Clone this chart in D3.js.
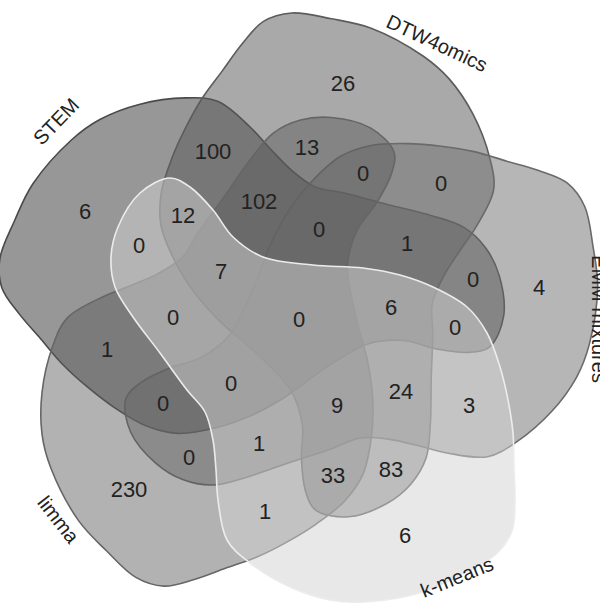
<!DOCTYPE html>
<html>
<head>
<meta charset="utf-8">
<script src="https://cdn.jsdelivr.net/npm/d3@7"></script>
<style>
  body { margin: 0; background: #fff; }
  svg { display: block; font-family: "Liberation Sans", Arial, sans-serif; }
</style>
</head>
<body>
<svg id="chart" width="600" height="604"></svg>
<script>
// sets
var setNames = ["STEM", "DTW4omics", "EMM mixtures", "k-means", "limma"];

// region membership (one bit per set, same order as setNames) and counts
var regionCodes = [
  "10000", "01000", "00100", "00010", "00001",
  "00110", "00011", "10001", "11000", "01100",
  "10100", "01010", "00101", "10010", "01001",
  "10110", "01011", "10101", "11010", "01101",
  "01110", "00111", "10011", "11001", "11100",
  "11110", "01111", "10111", "11011", "11101",
  "11111"
];
var regionCounts = [
  6, 26, 4, 6, 230,
  3, 1, 1, 100, 0,
  0, 83, 0, 0, 13,
  0, 33, 0, 12, 0,
  24, 1, 0, 102, 1,
  6, 9, 0, 7, 0,
  0
];

function draw() {
  var svg = d3.select("#chart");
  var width = 600, height = 604;

  // one blob (k-means), the others are rotated copies of it
  var blob = [
    [-130,-141],[-160,-126],[-182,-92],[-189,-62],[-185,-32],[-167,-2],
    [-140,34],[-113,71],[-95,93],[-87,121],[-84,151],[-82,181],[-73,221],
    [-50,244],[-10,268],[30,281],[65,283],[123,273],[160,256],[195,236],
    [212,212],[215,181],[214,148],[213,114],[208,81],[200,48],[187,14],
    [167,-12],[133,-32],[100,-44],[63,-51],[13,-54],[-37,-62],[-67,-82],
    [-87,-109],[-110,-132]
  ];

  var x = d3.scaleLinear().domain([-300, 300]).range([0, 600]);
  var y = d3.scaleLinear().domain([-300, 300]).range([19, 619]);

  // rotation of each set relative to the k-means blob
  var turn = { "k-means": 0, "limma": 72, "STEM": 141, "DTW4omics": 218, "EMM mixtures": 288 };
  var look = {
    "STEM":         { fill: "#464646", alpha: 0.56,  stroke: "#4a4a4a" },
    "DTW4omics":    { fill: "#5a5a5a", alpha: 0.52,  stroke: "#5c5c5c" },
    "EMM mixtures": { fill: "#757575", alpha: 0.53,  stroke: "#6a6a6a" },
    "limma":        { fill: "#5c5c5c", alpha: 0.47,  stroke: "#666666" },
    "k-means":      { fill: "#d1d1d1", alpha: 0.5,   stroke: "#ececec" }
  };
  var drawOrder = ["STEM", "DTW4omics", "EMM mixtures", "limma", "k-means"];

  function rotated(deg) {
    var a = deg * Math.PI / 180, c = Math.cos(a), s = Math.sin(a);
    return blob.map(function(p) { return [p[0] * c - p[1] * s, p[0] * s + p[1] * c]; });
  }

  var line = d3.line()
    .x(function(d) { return x(d[0]); })
    .y(function(d) { return y(d[1]); })
    .curve(d3.curveCatmullRomClosed.alpha(0.5));

  svg.append("g").selectAll("path")
    .data(drawOrder)
    .enter().append("path")
    .attr("d", function(d) { return line(rotated(turn[d])); })
    .attr("fill", function(d) { return look[d].fill; })
    .attr("fill-opacity", function(d) { return look[d].alpha; })
    .attr("stroke", function(d) { return look[d].stroke; })
    .attr("stroke-width", 1.6);

  // sample outlines into polygons (in setNames order)
  var probe = svg.append("path").attr("fill", "none").attr("stroke", "none");
  var polys = setNames.map(function(name) {
    probe.attr("d", line(rotated(turn[name])));
    var node = probe.node(), len = node.getTotalLength(), pts = [];
    for (var k = 0; k < 500; k++) {
      var p = node.getPointAtLength(len * k / 500);
      pts.push([p.x, p.y]);
    }
    return pts;
  });
  probe.remove();

  // membership grid + distance transform to place region labels
  var step = 2, gw = Math.ceil(width / step), gh = Math.ceil(height / step);
  var code = new Int32Array(gw * gh);
  var sums = {};
  for (var j = 0; j < gh; j++) {
    for (var i = 0; i < gw; i++) {
      var px = i * step + 1, py = j * step + 1, c = 0;
      for (var n = 0; n < 5; n++) {
        if (d3.polygonContains(polys[n], [px, py])) c |= (1 << (4 - n));
      }
      code[j * gw + i] = c;
      if (c) {
        if (!sums[c]) sums[c] = { x: 0, y: 0, n: 0 };
        sums[c].x += px; sums[c].y += py; sums[c].n++;
      }
    }
  }
  var dist = new Float32Array(gw * gh);
  for (j = 0; j < gh; j++) {
    for (i = 0; i < gw; i++) {
      var k = j * gw + i, cc = code[k];
      if (i == 0 || j == 0 || i == gw - 1 || j == gh - 1 ||
          code[k - 1] != cc || code[k + 1] != cc || code[k - gw] != cc || code[k + gw] != cc) dist[k] = 0;
      else dist[k] = 1e9;
    }
  }
  var r2 = Math.SQRT2;
  for (j = 1; j < gh - 1; j++) {
    for (i = 1; i < gw - 1; i++) {
      k = j * gw + i;
      dist[k] = Math.min(dist[k], dist[k - 1] + 1, dist[k - gw] + 1, dist[k - gw - 1] + r2, dist[k - gw + 1] + r2);
    }
  }
  for (j = gh - 2; j > 0; j--) {
    for (i = gw - 2; i > 0; i--) {
      k = j * gw + i;
      dist[k] = Math.min(dist[k], dist[k + 1] + 1, dist[k + gw] + 1, dist[k + gw + 1] + r2, dist[k + gw - 1] + r2);
    }
  }
  // roomy spot, pulled toward the region's centroid
  var best = {};
  for (k = 0; k < gw * gh; k++) {
    var cd = code[k];
    if (!cd) continue;
    var bx = (k % gw) * step + 1, by = Math.floor(k / gw) * step + 1;
    var cx = sums[cd].x / sums[cd].n, cy = sums[cd].y / sums[cd].n;
    var score = Math.min(dist[k], 14) - 0.25 * Math.hypot(bx - cx, by - cy) / step;
    if (!best[cd] || score > best[cd].s) best[cd] = { s: score, x: bx, y: by };
  }

  var regions = regionCodes.map(function(rc, idx) {
    return { code: parseInt(rc, 2), count: regionCounts[idx] };
  });

  svg.append("g").selectAll("text")
    .data(regions.filter(function(d) { return best[d.code]; }))
    .enter().append("text")
    .attr("x", function(d) { return best[d.code].x; })
    .attr("y", function(d) { return best[d.code].y; })
    .attr("text-anchor", "middle")
    .attr("dominant-baseline", "central")
    .attr("font-size", 22)
    .attr("fill", "#222")
    .text(function(d) { return d.count; });

  // set names around the outside
  var nameSpots = {
    "STEM":         { a: -141, r: 314, rot: -46 },
    "DTW4omics":    { a: -63.6, r: 308, rot: 25 },
    "EMM mixtures": { a: 0, r: 299, rot: 90 },
    "k-means":      { a: 58.7, r: 302, rot: -22 },
    "limma":        { a: 140.3, r: 314, rot: 52 }
  };
  svg.append("g").selectAll("text")
    .data(setNames)
    .enter().append("text")
    .attr("transform", function(d) {
      var s = nameSpots[d], a = s.a * Math.PI / 180;
      return "translate(" + x(s.r * Math.cos(a)) + "," + y(s.r * Math.sin(a)) + ") rotate(" + s.rot + ")";
    })
    .attr("text-anchor", "middle")
    .attr("dominant-baseline", "central")
    .attr("font-size", 20)
    .attr("fill", "#222")
    .text(function(d) { return d; });
}

draw();
</script>
</body>
</html>
